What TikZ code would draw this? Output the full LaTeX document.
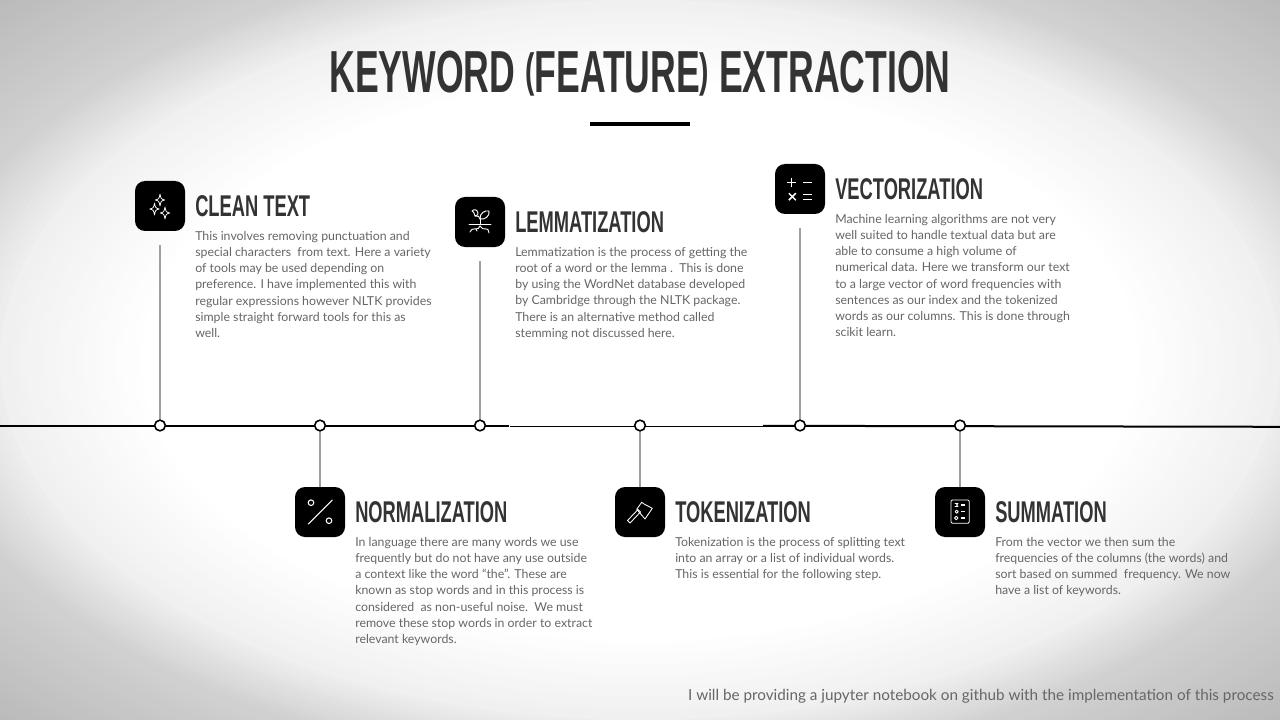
\documentclass[tikz,border=0pt]{standalone}
\usepackage{fontspec}
\setmainfont{Lato}
\newfontfamily\headfont[FakeStretch=0.61]{Liberation Sans Bold}
\newfontfamily\titlefont[FakeStretch=0.6]{Liberation Sans Bold}
\usetikzlibrary{calc}
\definecolor{ink}{HTML}{333333}
\definecolor{bodytxt}{HTML}{666666}
\definecolor{stem}{HTML}{A0A0A0}
\newcommand{\tparen}[1]{\raisebox{4.6pt}{\fontsize{35}{36}\selectfont #1}}
\tikzset{
 x=0.75pt,y=-0.75pt,
 iconbox/.style={fill=black,rounded corners=7.5pt,minimum width=37.5pt,minimum height=37.5pt,inner sep=0pt,draw=none},
 dot/.style={circle,draw=black,fill=white,line width=1.2pt,minimum size=8pt,inner sep=0pt},
 stemline/.style={draw=stem,line width=1.1pt},
 head/.style={anchor=base west,inner sep=0pt,text=ink,font=\headfont\fontsize{22.5}{24}\selectfont},
 para/.style={anchor=north west,inner sep=0pt,align=left,text=bodytxt,font=\fontsize{9.25}{12.15}\selectfont},
 glyph/.style={draw=white,line width=0.7pt,line cap=round,line join=round},
}
\begin{document}
\begin{tikzpicture}
\useasboundingbox (0,0) rectangle (1280,720);
% vignette: nested ellipses, outermost first
\begin{scope}
\clip (0,0) rectangle (1280,720);
\foreach \n in {0,...,64}{
 \pgfmathsetmacro{\k}{1.42-0.01*\n}
 \pgfmathsetmacro{\g}{\k>1.14 ? 0.82-(\k-1.14)*0.321 : (\k>1.0 ? 0.94-(\k-1.0)*0.857 : 1.0-(\k-0.78)*0.273)}
 \definecolor{vg}{gray}{\g}
 \fill[vg] (640,360) ellipse ({640*\k} and {360*\k});
}
\end{scope}
% title
\node[anchor=base,inner sep=0pt,text=ink,font=\titlefont\fontsize{44.5}{48}\selectfont] (title) at (640,93) {KEYWORD \tparen{(}FEATURE\tparen{)} EXTRACTION};
\fill[black] (590,122) rectangle (690,126);
% timeline
\coordinate (tlA) at (0,425.5);
\coordinate (tlB) at (509,425.5);
\coordinate (tlC) at (510,426.5);
\coordinate (tlD) at (763,426.5);
\coordinate (tlE) at (763,425.8);
\coordinate (tlF) at (1280,426.8);
\draw[line width=1.5pt,black] (tlA) -- (tlB);
\draw[line width=1pt,black] (tlC) -- (tlD);
\draw[line width=1.5pt,black] (tlE) -- (tlF);
% icon boxes
\node[iconbox] (i1) at (160,206) {};
\node[iconbox] (i2) at (320,512) {};
\node[iconbox] (i3) at (480,222) {};
\node[iconbox] (i4) at (640,512) {};
\node[iconbox] (i5) at (800,189) {};
\node[iconbox] (i6) at (960,512) {};
% dots (positions)
\coordinate (c1) at (160,425.5);
\coordinate (c2) at (320,425.5);
\coordinate (c3) at (480,425.5);
\coordinate (c4) at (640,425.5);
\coordinate (c5) at (800,425.5);
\coordinate (c6) at (960,425.5);
% stems
\draw[stemline,shorten <=10.5pt] (i1.south) -- (c1);
\draw[stemline,shorten <=10.5pt] (i3.south) -- (c3);
\draw[stemline,shorten <=10.5pt] (i5.south) -- (c5);
\draw[stemline] (c2) -- (i2.north);
\draw[stemline] (c4) -- (i4.north);
\draw[stemline] (c6) -- (i6.north);
\node[dot] (d1) at (c1) {};
\node[dot] (d2) at (c2) {};
\node[dot] (d3) at (c3) {};
\node[dot] (d4) at (c4) {};
\node[dot] (d5) at (c5) {};
\node[dot] (d6) at (c6) {};
% icon: sparkles
\begin{scope}[shift={(i1.center)},glyph,line width=0.55pt]
 \foreach \cx/\cy/\r in {0/-6/6,-5.5/3/6,5/7/6}{
  \draw (\cx,\cy-\r) .. controls (\cx+1,\cy-1) .. (\cx+\r*0.8,\cy) .. controls (\cx+1,\cy+1) .. (\cx,\cy+\r) .. controls (\cx-1,\cy+1) .. (\cx-\r*0.8,\cy) .. controls (\cx-1,\cy-1) .. cycle;
 }
\end{scope}
% icon: plant
\begin{scope}[shift={(i3.center)},glyph]
 \draw (-11,2.3) -- (11,2.3);
 \draw (0,2.3) -- (0,-3);
 \draw (0,-3) .. controls (0,-6) and (-2,-6) .. (-5,-6) -- (-6,-9);
 \draw (-6,-9) .. controls (-6,-10) and (-7,-10) .. (-8,-11) .. controls (-6,-13) and (-3,-13) .. (-2,-9) .. controls (-2,-7) .. (-5,-6);
 \draw (0,-3) .. controls (-0.5,-9) and (5,-12) .. (9,-11) .. controls (10,-6) and (5,-2) .. (0,-3);
 \draw (0,4) .. controls (0,7) and (-3,7) .. (-6,7) .. controls (-8,7) .. (-10,10);
 \draw (0,4) .. controls (1,7) and (4,7) .. (6,7) .. controls (8,7) .. (9,11);
 \draw (-4,7) -- (-3,9);
\end{scope}
% icon: calculator signs
\begin{scope}[shift={(i5.center)},glyph,line width=1.1pt,line cap=butt]
 \draw (-12.8,-6.7) -- (-3.8,-6.7) (-8.3,-11.2) -- (-8.3,-2.2);
 \draw (3.3,-6.3) -- (12.3,-6.3);
 \draw (-11.2,4.2) -- (-4.2,11.2) (-11.2,11.2) -- (-4.2,4.2);
 \draw (3.3,5.3) -- (12.3,5.3) (3.3,10.3) -- (12.3,10.3);
\end{scope}
% icon: percent
\begin{scope}[shift={(i2.center)},glyph,line width=0.8pt]
 \draw (-11.7,12) -- (12.3,-12);
 \draw (-9,-9.3) circle (2.8);
 \draw (9,8.7) circle (2.8);
\end{scope}
% icon: axe
\begin{scope}[shift={(i4.center)},glyph,line width=0.65pt]
 \draw (-12.5,8.5) -- (-2,-2.5) -- (0.5,0) -- (-10,11) -- cycle;
 \draw (-3.3,-2.7) -- (1.7,-9.7) -- (4,-8) -- (12.3,-3.7) -- (5,7) -- cycle;
\end{scope}
% icon: checklist
\begin{scope}[shift={(i6.center)},glyph,line width=0.65pt]
 \draw[rounded corners=1pt] (-9,-12) rectangle (9.3,11.3);
 \draw (-5,-8.5) -- (-2,-8.5) -- (-3.5,-7) -- (-2,-5.5) -- (-5,-5.5);
 \draw (-3.3,-0.3) circle (1.6);
 \draw (-3.8,6) circle (1.8);
 \draw[line width=1pt,line cap=butt] (0.7,-7) -- (5,-7) (0.7,-0.3) -- (5,-0.3) (0.7,6) -- (5,6);
\end{scope}
% headings
\node[head] (h1) at (195,216.5) {CLEAN TEXT};
\node[head] (h2) at (355,522.5) {NORMALIZATION};
\node[head] (h3) at (515,232.5) {LEMMATIZATION};
\node[head] (h4) at (675,522.5) {TOKENIZATION};
\node[head] (h5) at (835,199.5) {VECTORIZATION};
\node[head] (h6) at (995,522.5) {SUMMATION};
% paragraphs
\node[para] (p1) at (195,231) {This involves removing punctuation and\\special characters\ \ from text. Here a variety\\of tools may be used depending on\\preference. I have implemented this with\\regular expressions however NLTK provides\\simple straight forward tools for this as\\well.};
\node[para] (p2) at (355,537) {In language there are many words we use\\frequently but do not have any use outside\\a context like the word “the”. These are\\known as stop words and in this process is\\considered\ \ as non-useful noise.\ \ We must\\remove these stop words in order to extract\\relevant keywords.};
\node[para] (p3) at (515,247) {Lemmatization is the process of getting the\\root of a word or the lemma .\ \ This is done\\by using the WordNet database developed\\by Cambridge through the NLTK package.\\There is an alternative method called\\stemming not discussed here.};
\node[para] (p4) at (675,537) {Tokenization is the process of splitting text\\into an array or a list of individual words.\\This is essential for the following step.};
\node[para] (p5) at (835,214) {Machine learning algorithms are not very\\well suited to handle textual data but are\\able to consume a high volume of\\numerical data. Here we transform our text\\to a large vector of word frequencies with\\sentences as our index and the tokenized\\words as our columns. This is done through\\scikit learn.};
\node[para] (p6) at (995,537) {From the vector we then sum the\\frequencies of the columns (the words) and\\sort based on summed\ \ frequency. We now\\have a list of keywords.};
\node[anchor=base east,inner sep=0pt,text=bodytxt,font=\fontsize{11.45}{14}\selectfont] (foot) at (1274,700.5) {I will be providing a jupyter notebook on github with the implementation of this process};
\end{tikzpicture}
\end{document}
